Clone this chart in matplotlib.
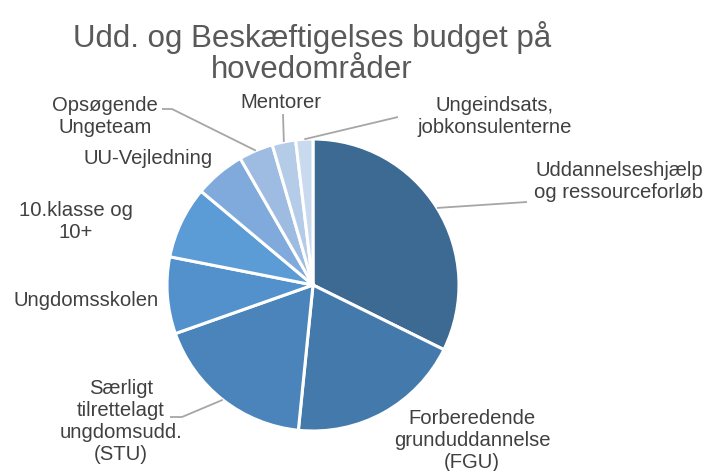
import matplotlib
matplotlib.use("Agg")
import matplotlib.pyplot as plt
import numpy as np

plt.rcParams['font.family'] = ['Liberation Sans', 'DejaVu Sans']

title = "Udd. og Beskæftigelses budget på\nhovedområder"
categories = [
    "Uddannelseshjælp\nog ressourceforløb",
    "Forberedende\ngrunduddannelse\n(FGU)",
    "Særligt\ntilrettelagt\nungdomsudd.\n(STU)",
    "Ungdomsskolen",
    "10.klasse og\n10+",
    "UU-Vejledning",
    "Opsøgende\nUngeteam",
    "Mentorer",
    "Ungeindsats,\njobkonsulenterne",
]
shares = [32.3, 19.3, 18.0, 8.5, 8.0, 5.6, 3.8, 2.6, 1.9]
colors = ["#3D6A93", "#4479AB", "#4A84BA", "#5291CB", "#5B9CD6",
          "#80AADB", "#9EBCE2", "#B5CCE9", "#C9DAEF"]

W, H = 705, 471
fig = plt.figure(figsize=(W / 100, H / 100), dpi=100)
ax = fig.add_axes([0, 0, 1, 1])

cx, cy, R = 313, H - 285, 146
wedges, _ = ax.pie(shares, colors=colors, startangle=90, counterclock=False,
                   center=(cx, cy), radius=R,
                   wedgeprops=dict(edgecolor='white', linewidth=2.2))
ax.set_xlim(0, W)
ax.set_ylim(0, H)
ax.set_aspect('equal')
ax.axis('off')

# label layout (pixel coords from top-left)
label_pos = [(619, 182), (472, 440), (121, 422), (86, 300), (76, 221),
             (148, 159), (105, 116.5), (281, 103), (495, 116.5)]
leaders = {0: [(527, 202)], 2: [(182, 417), (170, 417)],
           6: [(172, 109), (162, 109)], 7: [(283, 114)], 8: [(398, 117)]}

txt_color = "#404040"
for i, (lab, (px, py)) in enumerate(zip(categories, label_pos)):
    ax.text(px, H - py, lab, ha='center', va='center', fontsize=14.6,
            color=txt_color, linespacing=1.2, clip_on=False)

for i, pts in leaders.items():
    w = wedges[i]
    th = np.deg2rad((w.theta1 + w.theta2) / 2)
    xs = [cx + R * np.cos(th)] + [p[0] for p in pts]
    ys = [cy + R * np.sin(th)] + [H - p[1] for p in pts]
    ax.plot(xs, ys, color="#A6A6A6", lw=1.3, solid_capstyle='butt')

ax.text(312, H - 53, title, ha='center', va='center', fontsize=22.5,
        color="#595959", linespacing=1.08)

fig.savefig("out.png", dpi=100)
